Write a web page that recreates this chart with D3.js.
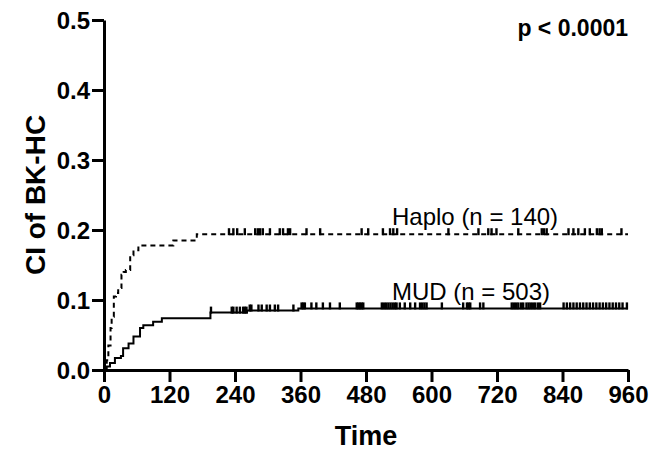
<!DOCTYPE html>
<html>
<head>
<meta charset="utf-8">
<script src="https://cdn.jsdelivr.net/npm/d3@7"></script>
<style>
  body { margin: 0; background: #fff; }
  svg text { font-family: "Liberation Sans", Arial, sans-serif; fill: #000; }
</style>
</head>
<body>
<div id="chart"></div>
<script>
var W = 661, H = 453;
var margin = { top: 20, right: 33, bottom: 83, left: 104 };

var xTicks = [0, 120, 240, 360, 480, 600, 720, 840, 960];
var yTicks = [0, 0.1, 0.2, 0.3, 0.4, 0.5];

// step curves: event times (days) and cumulative incidence after each event
var haploTimes = [0, 3, 5, 8, 12, 14, 18, 22, 26, 32, 36, 40, 48, 54, 63, 127, 170];
var haploCI = [0, 0.007, 0.014, 0.035, 0.06, 0.076, 0.105, 0.11, 0.117, 0.136, 0.14, 0.143, 0.164, 0.171, 0.178, 0.185, 0.194];
var mudTimes = [0, 5, 11, 20, 31, 35, 45, 54, 66, 72, 90, 106, 195, 262, 356];
var mudCI = [0, 0.005, 0.01, 0.017, 0.02, 0.031, 0.038, 0.048, 0.06, 0.064, 0.069, 0.074, 0.082, 0.085, 0.088];

// censored observations
var haploCensor = [229, 237, 244, 258, 277, 282, 286, 291, 304, 322, 328, 337, 341, 371, 396, 472, 484, 511, 524, 530, 537,
  631, 686, 704, 710, 719, 759, 802, 806, 811, 851, 860, 869, 881, 890, 903, 908, 912, 948];
var mudCensor = [196, 234, 237, 243, 249, 255, 258, 261, 267, 270, 283, 289, 298, 304, 313, 319, 347, 362, 365, 368, 380, 389,
  401, 414, 432, 463, 466, 469, 472, 475, 509, 513, 517, 521, 525, 529, 533, 536, 542, 551, 561, 570, 579, 583, 587, 591,
  619, 658, 665, 668, 671, 689, 695, 747, 751, 755, 759, 764, 768, 774, 778, 782, 786, 790, 795, 799,
  842, 848, 854, 860, 866, 872, 878, 884, 890, 896, 902, 908, 914, 920, 926, 932, 938, 944, 950, 958];

var series = [
  { name: "Haplo (n = 140)", times: haploTimes, ci: haploCI, censor: haploCensor, dash: "5,4", labelY: 225 },
  { name: "MUD (n = 503)", times: mudTimes, ci: mudCI, censor: mudCensor, dash: null, labelY: 300 }
];

var svg = d3.select("#chart").append("svg").attr("width", W).attr("height", H);

var x = d3.scaleLinear().domain([0, 960]).range([margin.left, W - margin.right]);
var y = d3.scaleLinear().domain([0, 0.5]).range([H - margin.bottom, margin.top]);

var xAxis = svg.append("g")
  .attr("transform", "translate(0," + y(0) + ")")
  .call(d3.axisBottom(x).tickValues(xTicks).tickSize(12).tickPadding(4).tickSizeOuter(0));
var yAxis = svg.append("g")
  .attr("transform", "translate(" + x(0) + ",0)")
  .call(d3.axisLeft(y).tickValues(yTicks).tickFormat(d3.format(".1f")).tickSize(12).tickPadding(2).tickSizeOuter(0));

[xAxis, yAxis].forEach(function(a) {
  a.select(".domain").attr("stroke", "#000").attr("stroke-width", 3);
  a.selectAll(".tick line").attr("stroke", "#000").attr("stroke-width", 3);
  a.selectAll(".tick text")
    .style("font-family", "'Liberation Sans', Arial, sans-serif")
    .style("font-weight", "bold")
    .style("font-size", "24px")
    .attr("fill", "#000");
});
yAxis.selectAll(".tick text").attr("dy", "0.36em");

var line = d3.line()
  .x(function(d) { return x(d[0]); })
  .y(function(d) { return y(d[1]); })
  .curve(d3.curveStepAfter);

function ciAt(s, t) {
  var i = d3.bisectRight(s.times, t) - 1;
  return s.ci[Math.max(0, i)];
}

series.forEach(function(s) {
  var pts = s.times.map(function(t, i) { return [t, s.ci[i]]; });
  pts.push([960, s.ci[s.ci.length - 1]]);

  svg.append("path")
    .datum(pts)
    .attr("d", line)
    .attr("fill", "none")
    .attr("stroke", "#000")
    .attr("stroke-width", 2)
    .attr("stroke-dasharray", s.dash);

  svg.append("g").selectAll("line")
    .data(s.censor)
    .enter().append("line")
    .attr("x1", function(d) { return x(d); })
    .attr("x2", function(d) { return x(d); })
    .attr("y1", function(d) { return y(ciAt(s, d)) + 1; })
    .attr("y2", function(d) { return y(ciAt(s, d)) - 6; })
    .attr("stroke", "#000")
    .attr("stroke-width", 2.4);

  svg.append("text")
    .attr("x", 392)
    .attr("y", s.labelY)
    .style("font-size", "24px")
    .text(s.name);
});

svg.append("text")
  .attr("x", 628)
  .attr("y", 36)
  .attr("text-anchor", "end")
  .style("font-size", "23px")
  .style("font-weight", "bold")
  .text("p < 0.0001");

svg.append("text")
  .attr("x", x(480))
  .attr("y", 445)
  .attr("text-anchor", "middle")
  .style("font-size", "27px")
  .style("font-weight", "bold")
  .text("Time");

svg.append("text")
  .attr("transform", "translate(45," + y(0.25) + ") rotate(-90)")
  .attr("text-anchor", "middle")
  .style("font-size", "28px")
  .style("font-weight", "bold")
  .text("CI of BK-HC");
</script>
</body>
</html>
